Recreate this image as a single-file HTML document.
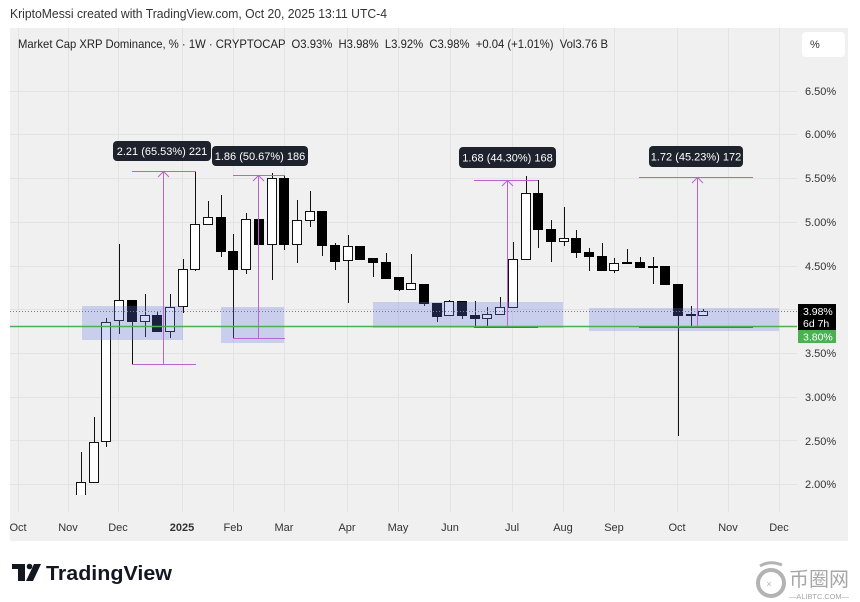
<!DOCTYPE html>
<html><head><meta charset="utf-8"><style>
html,body{margin:0;padding:0;background:#fff;}
svg{display:block;font-family:"Liberation Sans","Noto Sans CJK SC",sans-serif;}
.w{fill:#fff;stroke:#111;stroke-width:1}
.b{fill:#000;stroke:#000;stroke-width:1}
.wk line{stroke:#111;stroke-width:1}
.g line{stroke:#e3e3e3;stroke-width:1}
.ax{font-size:11px;fill:#333}
.ms{stroke:#b865cc;stroke-width:1;fill:none}
.lbl{font-size:11px;fill:#fff;text-anchor:middle}
.pre{white-space:pre}
</style></head><body>
<svg width="860" height="602" viewBox="0 0 860 602" xmlns="http://www.w3.org/2000/svg">
<defs><clipPath id="pc"><rect x="10" y="28" width="787" height="467"/></clipPath></defs>
<rect x="0" y="0" width="860" height="602" fill="#fff"/>
<text x="10" y="18" font-size="13" fill="#333" textLength="377" lengthAdjust="spacingAndGlyphs">KriptoMessi created with TradingView.com, Oct 20, 2025 13:11 UTC-4</text>
<rect x="10" y="28" width="838" height="513" fill="#f0f0f0"/>

<!-- grid -->
<g class="g">
<line x1="10" y1="91.5" x2="797" y2="91.5"/><line x1="10" y1="134.5" x2="797" y2="134.5"/>
<line x1="10" y1="178.5" x2="797" y2="178.5"/><line x1="10" y1="222.5" x2="797" y2="222.5"/>
<line x1="10" y1="266.5" x2="797" y2="266.5"/><line x1="10" y1="309.5" x2="797" y2="309.5"/>
<line x1="10" y1="353.5" x2="797" y2="353.5"/><line x1="10" y1="397.5" x2="797" y2="397.5"/>
<line x1="10" y1="440.5" x2="797" y2="440.5"/><line x1="10" y1="484.5" x2="797" y2="484.5"/>
<line x1="18.5" y1="28" x2="18.5" y2="512"/><line x1="68.5" y1="28" x2="68.5" y2="512"/>
<line x1="118.5" y1="28" x2="118.5" y2="512"/><line x1="182.5" y1="28" x2="182.5" y2="512"/>
<line x1="233.5" y1="28" x2="233.5" y2="512"/><line x1="284.5" y1="28" x2="284.5" y2="512"/>
<line x1="347.5" y1="28" x2="347.5" y2="512"/><line x1="398.5" y1="28" x2="398.5" y2="512"/>
<line x1="450.5" y1="28" x2="450.5" y2="512"/><line x1="512.5" y1="28" x2="512.5" y2="512"/>
<line x1="563.5" y1="28" x2="563.5" y2="512"/><line x1="614.5" y1="28" x2="614.5" y2="512"/>
<line x1="677.5" y1="28" x2="677.5" y2="512"/><line x1="728.5" y1="28" x2="728.5" y2="512"/>
<line x1="779.5" y1="28" x2="779.5" y2="512"/>
</g>

<text class="pre" xml:space="preserve" x="18" y="48" font-size="12" fill="#222" textLength="590" lengthAdjust="spacingAndGlyphs">Market Cap XRP Dominance, % · 1W · CRYPTOCAP  O3.93%  H3.98%  L3.92%  C3.98%  +0.04 (+1.01%)  Vol3.76 B</text>
<rect x="802" y="32" width="43" height="25" rx="4" fill="#fff"/>
<text x="810" y="48" font-size="11" fill="#333">%</text>

<g clip-path="url(#pc)">
<!-- candles -->
<g class="wk">
<line x1="81.5" y1="452" x2="81.5" y2="497"/><line x1="94.5" y1="417" x2="94.5" y2="482"/>
<line x1="106.5" y1="318" x2="106.5" y2="447"/><line x1="119.5" y1="244" x2="119.5" y2="334"/>
<line x1="132.5" y1="300" x2="132.5" y2="364"/><line x1="145.5" y1="294" x2="145.5" y2="337"/>
<line x1="157.5" y1="312" x2="157.5" y2="331"/><line x1="170.5" y1="294" x2="170.5" y2="338"/>
<line x1="183.5" y1="259" x2="183.5" y2="313"/><line x1="195.5" y1="171" x2="195.5" y2="271"/>
<line x1="208.5" y1="201" x2="208.5" y2="224"/><line x1="221.5" y1="195" x2="221.5" y2="257"/>
<line x1="233.5" y1="234" x2="233.5" y2="338"/><line x1="246.5" y1="213" x2="246.5" y2="274"/>
<line x1="259.5" y1="219" x2="259.5" y2="244"/><line x1="272.5" y1="173" x2="272.5" y2="280"/>
<line x1="284.5" y1="175" x2="284.5" y2="250"/><line x1="297.5" y1="200" x2="297.5" y2="263"/>
<line x1="310.5" y1="191" x2="310.5" y2="227"/><line x1="322.5" y1="211" x2="322.5" y2="256"/>
<line x1="335.5" y1="243" x2="335.5" y2="270"/><line x1="348.5" y1="235" x2="348.5" y2="303"/>
<line x1="360.5" y1="246" x2="360.5" y2="260"/><line x1="373.5" y1="258" x2="373.5" y2="277"/>
<line x1="386.5" y1="253" x2="386.5" y2="278"/><line x1="399.5" y1="277" x2="399.5" y2="291"/>
<line x1="411.5" y1="254" x2="411.5" y2="290"/><line x1="424.5" y1="284" x2="424.5" y2="306"/>
<line x1="437.5" y1="303" x2="437.5" y2="322"/><line x1="449.5" y1="300" x2="449.5" y2="315"/>
<line x1="462.5" y1="301" x2="462.5" y2="319"/><line x1="475.5" y1="301" x2="475.5" y2="327"/>
<line x1="487.5" y1="307" x2="487.5" y2="327"/><line x1="500.5" y1="297" x2="500.5" y2="314"/>
<line x1="513.5" y1="242" x2="513.5" y2="307"/><line x1="526.5" y1="176" x2="526.5" y2="259"/>
<line x1="538.5" y1="180" x2="538.5" y2="248"/><line x1="551.5" y1="220" x2="551.5" y2="262"/>
<line x1="564.5" y1="207" x2="564.5" y2="246"/><line x1="576.5" y1="230" x2="576.5" y2="258"/>
<line x1="589.5" y1="248" x2="589.5" y2="271"/><line x1="602.5" y1="243" x2="602.5" y2="270"/>
<line x1="614.5" y1="258" x2="614.5" y2="273"/><line x1="627.5" y1="249" x2="627.5" y2="263"/>
<line x1="640.5" y1="257" x2="640.5" y2="267"/><line x1="653.5" y1="257" x2="653.5" y2="284"/>
<line x1="665.5" y1="266" x2="665.5" y2="284"/><line x1="678.5" y1="284" x2="678.5" y2="436"/>
<line x1="691.5" y1="306" x2="691.5" y2="327"/><line x1="703.5" y1="309" x2="703.5" y2="315"/>
</g>
<rect class="w" x="76.5" y="482.5" width="9" height="15"/>
<rect class="w" x="89.5" y="442.5" width="9" height="40"/>
<rect class="w" x="101.5" y="322.5" width="9" height="119"/>
<rect class="w" x="114.5" y="300.5" width="9" height="20"/>
<rect class="b" x="127.5" y="300.5" width="9" height="21"/>
<rect class="w" x="140.5" y="315.5" width="9" height="6"/>
<rect class="b" x="152.5" y="315.5" width="9" height="16"/>
<rect class="w" x="165.5" y="307.5" width="9" height="24"/>
<rect class="w" x="178.5" y="269.5" width="9" height="37"/>
<rect class="w" x="190.5" y="224.5" width="9" height="45"/>
<rect class="w" x="203.5" y="217.5" width="9" height="7"/>
<rect class="b" x="216.5" y="217.5" width="9" height="34"/>
<rect class="b" x="228.5" y="251.5" width="9" height="18"/>
<rect class="w" x="241.5" y="219.5" width="9" height="50"/>
<rect class="b" x="254.5" y="219.5" width="9" height="25"/>
<rect class="w" x="267.5" y="178.5" width="9" height="66"/>
<rect class="b" x="279.5" y="178.5" width="9" height="66"/>
<rect class="w" x="292.5" y="220.5" width="9" height="24"/>
<rect class="w" x="305.5" y="211.5" width="9" height="9"/>
<rect class="b" x="317.5" y="211.5" width="9" height="34"/>
<rect class="b" x="330.5" y="245.5" width="9" height="16"/>
<rect class="w" x="343.5" y="246.5" width="9" height="14"/>
<rect class="b" x="355.5" y="246.5" width="9" height="13"/>
<rect class="b" x="368.5" y="258.5" width="9" height="4"/>
<rect class="b" x="381.5" y="262.5" width="9" height="16"/>
<rect class="b" x="394.5" y="277.5" width="9" height="12"/>
<rect class="w" x="406.5" y="283.5" width="9" height="6"/>
<rect class="b" x="419.5" y="284.5" width="9" height="19"/>
<rect class="b" x="432.5" y="303.5" width="9" height="13"/>
<rect class="w" x="444.5" y="301.5" width="9" height="14"/>
<rect class="b" x="457.5" y="301.5" width="9" height="14"/>
<rect class="b" x="470.5" y="315.5" width="9" height="3"/>
<rect class="w" x="482.5" y="314.5" width="9" height="4"/>
<rect class="w" x="495.5" y="307.5" width="9" height="7"/>
<rect class="w" x="508.5" y="259.5" width="9" height="48"/>
<rect class="w" x="521.5" y="193.5" width="9" height="66"/>
<rect class="b" x="533.5" y="193.5" width="9" height="36"/>
<rect class="b" x="546.5" y="229.5" width="9" height="12"/>
<rect class="w" x="559.5" y="238.5" width="9" height="3"/>
<rect class="b" x="571.5" y="238.5" width="9" height="14"/>
<rect class="b" x="584.5" y="252.5" width="9" height="4"/>
<rect class="b" x="597.5" y="256.5" width="9" height="14"/>
<rect class="w" x="609.5" y="263.5" width="9" height="7"/>
<rect class="b" x="622.5" y="262.5" width="9" height="1"/>
<rect class="b" x="635.5" y="262.5" width="9" height="5"/>
<rect class="b" x="648.5" y="266.5" width="9" height="1"/>
<rect class="b" x="660.5" y="266.5" width="9" height="18"/>
<rect class="b" x="673.5" y="284.5" width="9" height="31"/>
<rect class="b" x="686.5" y="314.5" width="9" height="1"/>
<rect class="w" x="698.5" y="311.5" width="9" height="4"/>

<!-- blue zones -->
<g fill="rgb(100,120,230)" fill-opacity="0.28">
<rect x="82" y="306" width="101" height="34"/>
<rect x="221" y="307" width="63" height="36"/>
<rect x="373" y="302" width="190" height="26"/>
<rect x="589" y="308" width="190" height="23"/>
</g>

<!-- lines -->
<line x1="10" y1="311.5" x2="797" y2="311.5" stroke="#7a7a7a" stroke-width="1" stroke-dasharray="1,2"/>
<line x1="10" y1="326.5" x2="797" y2="326.5" stroke="#4caf50" stroke-width="1.6"/>

<!-- measure tools -->
<g class="ms">
<line x1="132" y1="171.5" x2="196" y2="171.5"/><line x1="132" y1="364.5" x2="196" y2="364.5"/>
<line x1="163.5" y1="364" x2="163.5" y2="171"/><polyline points="158,177 163.5,171.5 169,177"/>
<line x1="233" y1="175.5" x2="285" y2="175.5"/><line x1="233" y1="338.5" x2="285" y2="338.5"/>
<line x1="258.5" y1="338" x2="258.5" y2="175"/><polyline points="253,181 258.5,175.5 264,181"/>
<line x1="474" y1="180.5" x2="538" y2="180.5"/><line x1="474" y1="327.5" x2="538" y2="327.5" stroke="#6b5fa8"/>
<line x1="507.5" y1="327" x2="507.5" y2="180"/><polyline points="502,186 507.5,180.5 513,186"/>
<line x1="639" y1="177.5" x2="753" y2="177.5"/><line x1="639" y1="327.5" x2="753" y2="327.5" stroke="#5f6b9a"/>
<line x1="697.5" y1="327" x2="697.5" y2="177"/><polyline points="692,183 697.5,177.5 703,183"/>
</g>
</g>

<!-- measure labels -->
<rect x="113" y="141" width="98" height="20" rx="4" fill="#1e222d"/>
<text class="lbl" x="162" y="155">2.21 (65.53%) 221</text>
<rect x="212" y="146" width="96" height="20" rx="4" fill="#1e222d"/>
<text class="lbl" x="260" y="160">1.86 (50.67%) 186</text>
<rect x="459" y="147" width="97" height="21" rx="4" fill="#1e222d"/>
<text class="lbl" x="507.5" y="161.5">1.68 (44.30%) 168</text>
<rect x="649" y="146" width="94" height="21" rx="4" fill="#1e222d"/>
<text class="lbl" x="696" y="160.5">1.72 (45.23%) 172</text>

<!-- price axis -->
<text class="ax" x="805" y="95">6.50%</text>
<text class="ax" x="805" y="138">6.00%</text>
<text class="ax" x="805" y="182">5.50%</text>
<text class="ax" x="805" y="226">5.00%</text>
<text class="ax" x="805" y="270">4.50%</text>
<text class="ax" x="805" y="357">3.50%</text>
<text class="ax" x="805" y="401">3.00%</text>
<text class="ax" x="805" y="445">2.50%</text>
<text class="ax" x="805" y="488">2.00%</text>
<rect x="798" y="304" width="38" height="26" fill="#000"/>
<text x="803" y="315" font-size="10.5" fill="#fff">3.98%</text>
<text x="803" y="327" font-size="10.5" fill="#fff">6d 7h</text>
<rect x="798" y="330" width="38" height="13" fill="#4caf50"/>
<text x="803" y="340.5" font-size="10.5" fill="#fff">3.80%</text>

<!-- time axis -->
<g class="ax" text-anchor="middle">
<text x="18" y="531">Oct</text><text x="68" y="531">Nov</text><text x="118" y="531">Dec</text>
<text x="182" y="531" font-weight="bold">2025</text><text x="233" y="531">Feb</text><text x="284" y="531">Mar</text>
<text x="347" y="531">Apr</text><text x="398" y="531">May</text><text x="450" y="531">Jun</text>
<text x="512" y="531">Jul</text><text x="563" y="531">Aug</text><text x="614" y="531">Sep</text>
<text x="677" y="531">Oct</text><text x="728" y="531">Nov</text><text x="779" y="531">Dec</text>
</g>

<!-- TradingView logo -->
<g fill="#131722">
<rect x="12" y="564" width="13" height="5"/>
<rect x="18" y="564" width="7" height="17"/>
<circle cx="29.5" cy="566.5" r="2.8"/>
<polygon points="34,564 41,564 33,581 26,581"/>
</g>
<text x="46" y="580" font-size="20" font-weight="bold" fill="#131722" textLength="126" lengthAdjust="spacingAndGlyphs">TradingView</text>

<!-- watermark -->
<g opacity="0.75">
<circle cx="771" cy="583" r="13" fill="none" stroke="#9a9a9a" stroke-width="4"/>
<path d="M760 566 Q770 560 782 565" stroke="#9a9a9a" stroke-width="3" fill="none"/>
<text x="769" y="587" font-size="9" fill="#9a9a9a" text-anchor="middle">×</text>
<text x="789" y="586" font-size="20" fill="#8a8a8a" font-family="'Noto Sans CJK SC',sans-serif" textLength="60" lengthAdjust="spacingAndGlyphs">币圈网</text>
<text x="789" y="599" font-size="7" fill="#8a8a8a" textLength="60" lengthAdjust="spacingAndGlyphs">—ALIBTC.COM—</text>
</g>
</svg>
</body></html>
